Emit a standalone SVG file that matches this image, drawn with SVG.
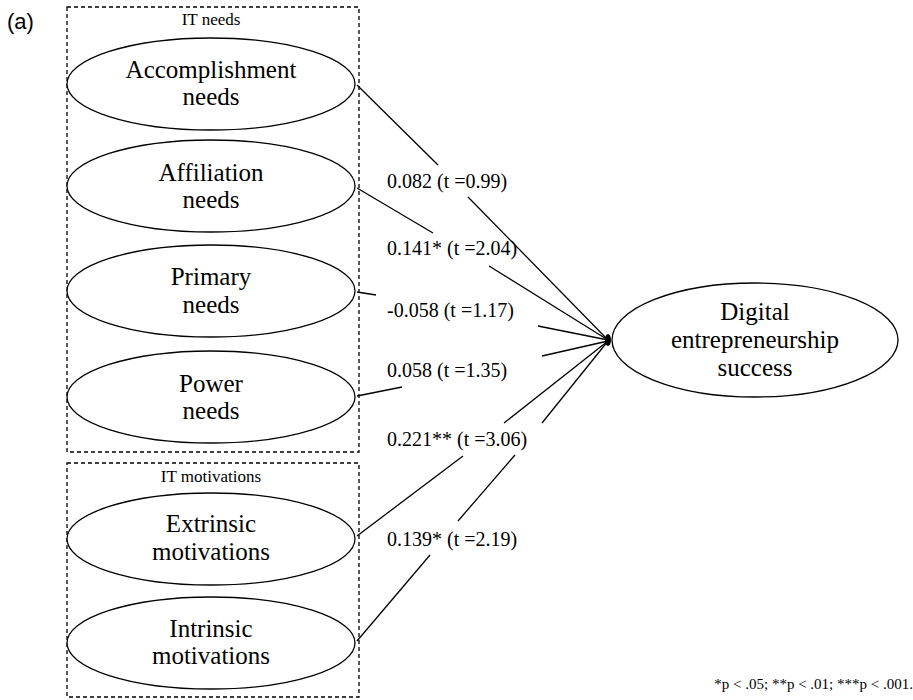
<svg xmlns="http://www.w3.org/2000/svg" width="913" height="700" viewBox="0 0 913 700">
<style>
.node{fill:#fff;stroke:#000;stroke-width:1.3}
.box{fill:none;stroke:#000;stroke-width:1.3;stroke-dasharray:4 3}
.nt{font-size:25px;text-anchor:middle;fill:#000}
.tt{font-size:17px;text-anchor:middle;fill:#000}
.lb{font-size:20px;fill:#000}
.edge{stroke:#000;stroke-width:1.3;fill:none}
</style>
<rect width="913" height="700" fill="#fff"/>
<text x="7" y="29" font-family="Liberation Sans, Arial, sans-serif" font-size="22" fill="#000">(a)</text>
<g font-family="Liberation Serif, Times New Roman, serif">
<g id="group-it-needs">
<rect class="box" x="67" y="7" width="292" height="445"/>
<text class="tt" x="211" y="25">IT needs</text>
</g>
<g id="group-it-motivations">
<rect class="box" x="67" y="463" width="292" height="234"/>
<text class="tt" x="211" y="482">IT motivations</text>
</g>
<g id="connectors">
<polyline class="edge" points="357,85 438,165"/>
<polyline class="edge" points="468,197 608,340"/>
<polyline class="edge" points="357,188 433,233"/>
<polyline class="edge" points="489,266 608,340"/>
<polyline class="edge" points="357,292 376,295"/>
<polyline class="edge" points="538,326 608,340"/>
<polyline class="edge" points="357,396 402,387"/>
<polyline class="edge" points="542,356 608,341"/>
<polyline class="edge" points="357,536 463,456"/>
<polyline class="edge" points="504,423 608,341"/>
<polyline class="edge" points="357,641 430,555"/>
<polyline class="edge" points="458,521 515,455"/>
<polyline class="edge" points="542,423 608,341"/>
<ellipse cx="608" cy="340" rx="3" ry="6" fill="#000"/>
<text class="lb" x="387" y="188">0.082 (t =0.99)</text>
<text class="lb" x="387" y="255">0.141* (t =2.04)</text>
<text class="lb" x="387" y="317">-0.058 (t =1.17)</text>
<text class="lb" x="387" y="377">0.058 (t =1.35)</text>
<text class="lb" x="387" y="446">0.221** (t =3.06)</text>
<text class="lb" x="387" y="546">0.139* (t =2.19)</text>
</g>
<g id="accomplishment">
<ellipse class="node" cx="211" cy="84" rx="144" ry="46"/>
<text class="nt" x="211" y="78">Accomplishment</text>
<text class="nt" x="211" y="105">needs</text>
</g>
<g id="affiliation">
<ellipse class="node" cx="211" cy="186" rx="144" ry="46"/>
<text class="nt" x="211" y="181">Affiliation</text>
<text class="nt" x="211" y="208">needs</text>
</g>
<g id="primary">
<ellipse class="node" cx="211" cy="291" rx="144" ry="46"/>
<text class="nt" x="211" y="285">Primary</text>
<text class="nt" x="211" y="313">needs</text>
</g>
<g id="power">
<ellipse class="node" cx="211" cy="397" rx="144" ry="46"/>
<text class="nt" x="211" y="392">Power</text>
<text class="nt" x="211" y="419">needs</text>
</g>
<g id="extrinsic">
<ellipse class="node" cx="211" cy="539" rx="144" ry="46"/>
<text class="nt" x="211" y="532">Extrinsic</text>
<text class="nt" x="211" y="560">motivations</text>
</g>
<g id="intrinsic">
<ellipse class="node" cx="211" cy="643" rx="144" ry="46"/>
<text class="nt" x="211" y="637">Intrinsic</text>
<text class="nt" x="211" y="664">motivations</text>
</g>
<g id="digital">
<ellipse class="node" cx="755" cy="340" rx="143" ry="57"/>
<text class="nt" x="755" y="320">Digital</text>
<text class="nt" x="755" y="348">entrepreneurship</text>
<text class="nt" x="755" y="376">success</text>
</g>
<text x="913" y="689" font-size="15" text-anchor="end" fill="#000">*p &lt; .05; **p &lt; .01; ***p &lt; .001.</text>
</g>
</svg>
